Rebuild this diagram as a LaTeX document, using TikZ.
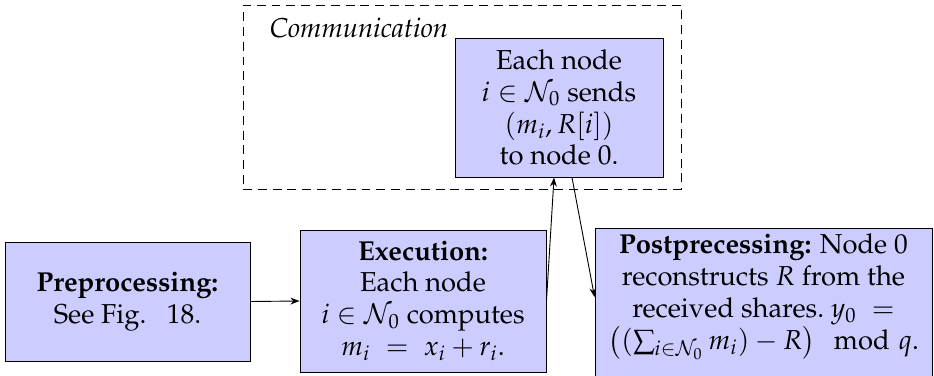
\documentclass[tikz,border=0pt]{standalone}
\usepackage{amsmath}
\usepackage[T1]{fontenc}
\usepackage{mathpazo}
\usetikzlibrary{arrows.meta}
\begin{document}
\begin{tikzpicture}[x=0.4386pt,y=-0.4386pt,
  box/.style={draw=black, fill=blue!20, align=center, inner sep=0pt, line width=0.4pt,
    font=\fontsize{12}{14}\selectfont},
  txt/.style={align=center, inner sep=0pt, font=\fontsize{12}{14}\selectfont},
  arr/.style={-{Stealth[length=4pt,width=3pt]}, line width=0.4pt}]
\useasboundingbox (0,0) rectangle (934,375);
% communication frame
\node[draw, dash pattern=on 3.9pt off 2.6pt, line width=0.4pt, minimum width=192.1pt, minimum height=80.7pt, inner sep=0pt] (frame) at (462,97) {};
\node[font=\fontsize{12}{14}\selectfont\itshape, inner sep=0pt] (commlabel) at (359,28) {Communication};
\node[box, minimum width=91.23pt, minimum height=60.97pt] (com) at (559,107.5)
  {Each node\\ $i\in\mathcal{N}_0$ sends\\ $(m_i,R[i])$\\ to node 0.};
\node[box, minimum width=107.46pt, minimum height=52.19pt] (pre) at (127.5,301.5)
  {\textbf{Preprocessing:}\\ See Fig.\hspace{9pt}18.};
\node[box, minimum width=107.9pt, minimum height=62.28pt] (exe) at (423,301)
  {\textbf{Execution:}\\ Each node\\ $i\in\mathcal{N}_0$ computes\\ $m_i\;=\;x_i+r_i$.};
\node[box, minimum width=147.8pt, minimum height=65.8pt] (post) at (763.5,303) {};
\node[txt] (posttext) at (763.5,297)
  {\textbf{Postprecessing:} Node 0\\ reconstructs $R$ from the\\ received shares.\ $y_0\;=$\\ $\big((\sum_{i\in\mathcal{N}_0} m_i)-R\big)\mod q$.};
\draw[arr] (pre.east) -- (exe.west);
\draw[arr] (exe.east) -- ([xshift=-2.19pt]com.south);
\draw[arr] ([xshift=5.7pt]com.south) -- ([yshift=2.6pt]post.west);
\end{tikzpicture}
\end{document}
